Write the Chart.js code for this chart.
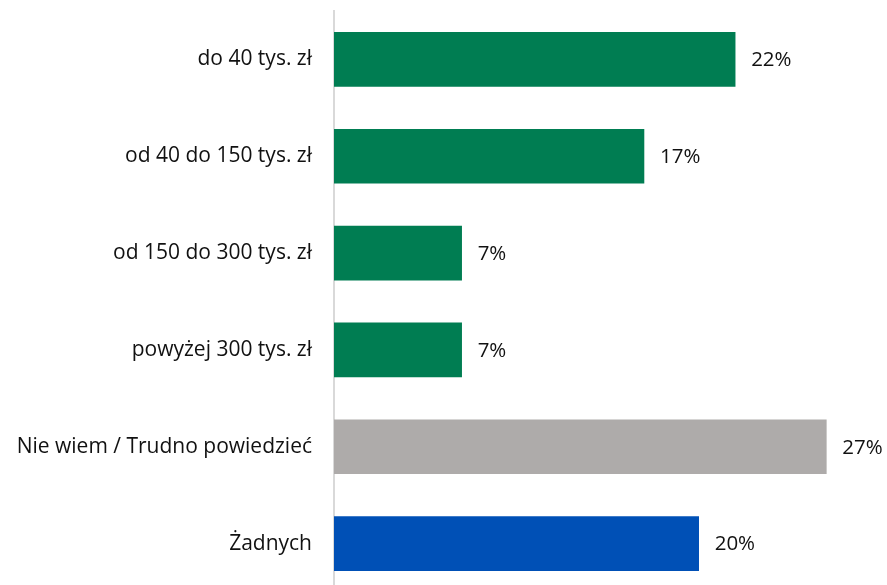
<!DOCTYPE html>
<html>
<head>
<meta charset="utf-8">
<script src="https://cdn.jsdelivr.net/npm/chart.js@4/dist/chart.umd.min.js"></script>
<style>
  html, body { margin: 0; padding: 0; background: #fff; overflow: hidden; }
  #wrap { width: 887px; height: 592px; }
</style>
</head>
<body>
<div id="wrap"><canvas id="myChart" width="887" height="592"></canvas></div>
<script>
// categories and values
const categories = [
    'do 40 tys. zł',
    'od 40 do 150 tys. zł',
    'od 150 do 300 tys. zł',
    'powyżej 300 tys. zł',
    'Nie wiem / Trudno powiedzieć',
    'Żadnych'
];
const shares = [22, 17, 7, 7, 27, 20];
const barColors = ['#007D52', '#007D52', '#007D52', '#007D52', '#AEABAA', '#0050B6'];

const fontFamily = "'Open Sans', 'Noto Sans', sans-serif";
const fontSize = 21;

// draw the percent label at the end of each bar
const valueLabels = {
    id: 'valueLabels',
    afterDatasetsDraw(chart) {
        const ctx = chart.ctx;
        const meta = chart.getDatasetMeta(0);
        ctx.save();
        ctx.font = '20.5px ' + fontFamily;
        ctx.fillStyle = '#111';
        ctx.textAlign = 'left';
        ctx.textBaseline = 'middle';
        meta.data.forEach((bar, i) => {
            ctx.fillText(shares[i] + '%', bar.x + 16, bar.y + 1);
        });
        ctx.restore();
    }
};

function initializeChart() {
    const ctx = document.getElementById('myChart').getContext('2d');
    return new Chart(ctx, {
        type: 'bar',
        data: {
            labels: categories,
            datasets: [{
                data: shares,
                backgroundColor: barColors,
                barThickness: 54
            }]
        },
        options: {
            indexAxis: 'y',
            responsive: false,
            animation: false,
            devicePixelRatio: 1,
            layout: { padding: { top: 11, right: 6, bottom: 0, left: 0 } },
            plugins: {
                legend: { display: false },
                tooltip: { enabled: false }
            },
            scales: {
                x: {
                    display: false,
                    min: 0,
                    max: 30
                },
                y: {
                    grid: { display: false, drawTicks: false },
                    border: { color: '#d9d9d9', width: 2 },
                    ticks: {
                        color: '#111',
                        padding: 22,
                        font: { family: fontFamily, size: fontSize }
                    },
                    afterFit(scale) {
                        scale.width = 334;
                        scale.paddingTop = 0;
                        scale.paddingBottom = 0;
                    }
                }
            }
        },
        plugins: [valueLabels]
    });
}

initializeChart();
</script>
</body>
</html>
